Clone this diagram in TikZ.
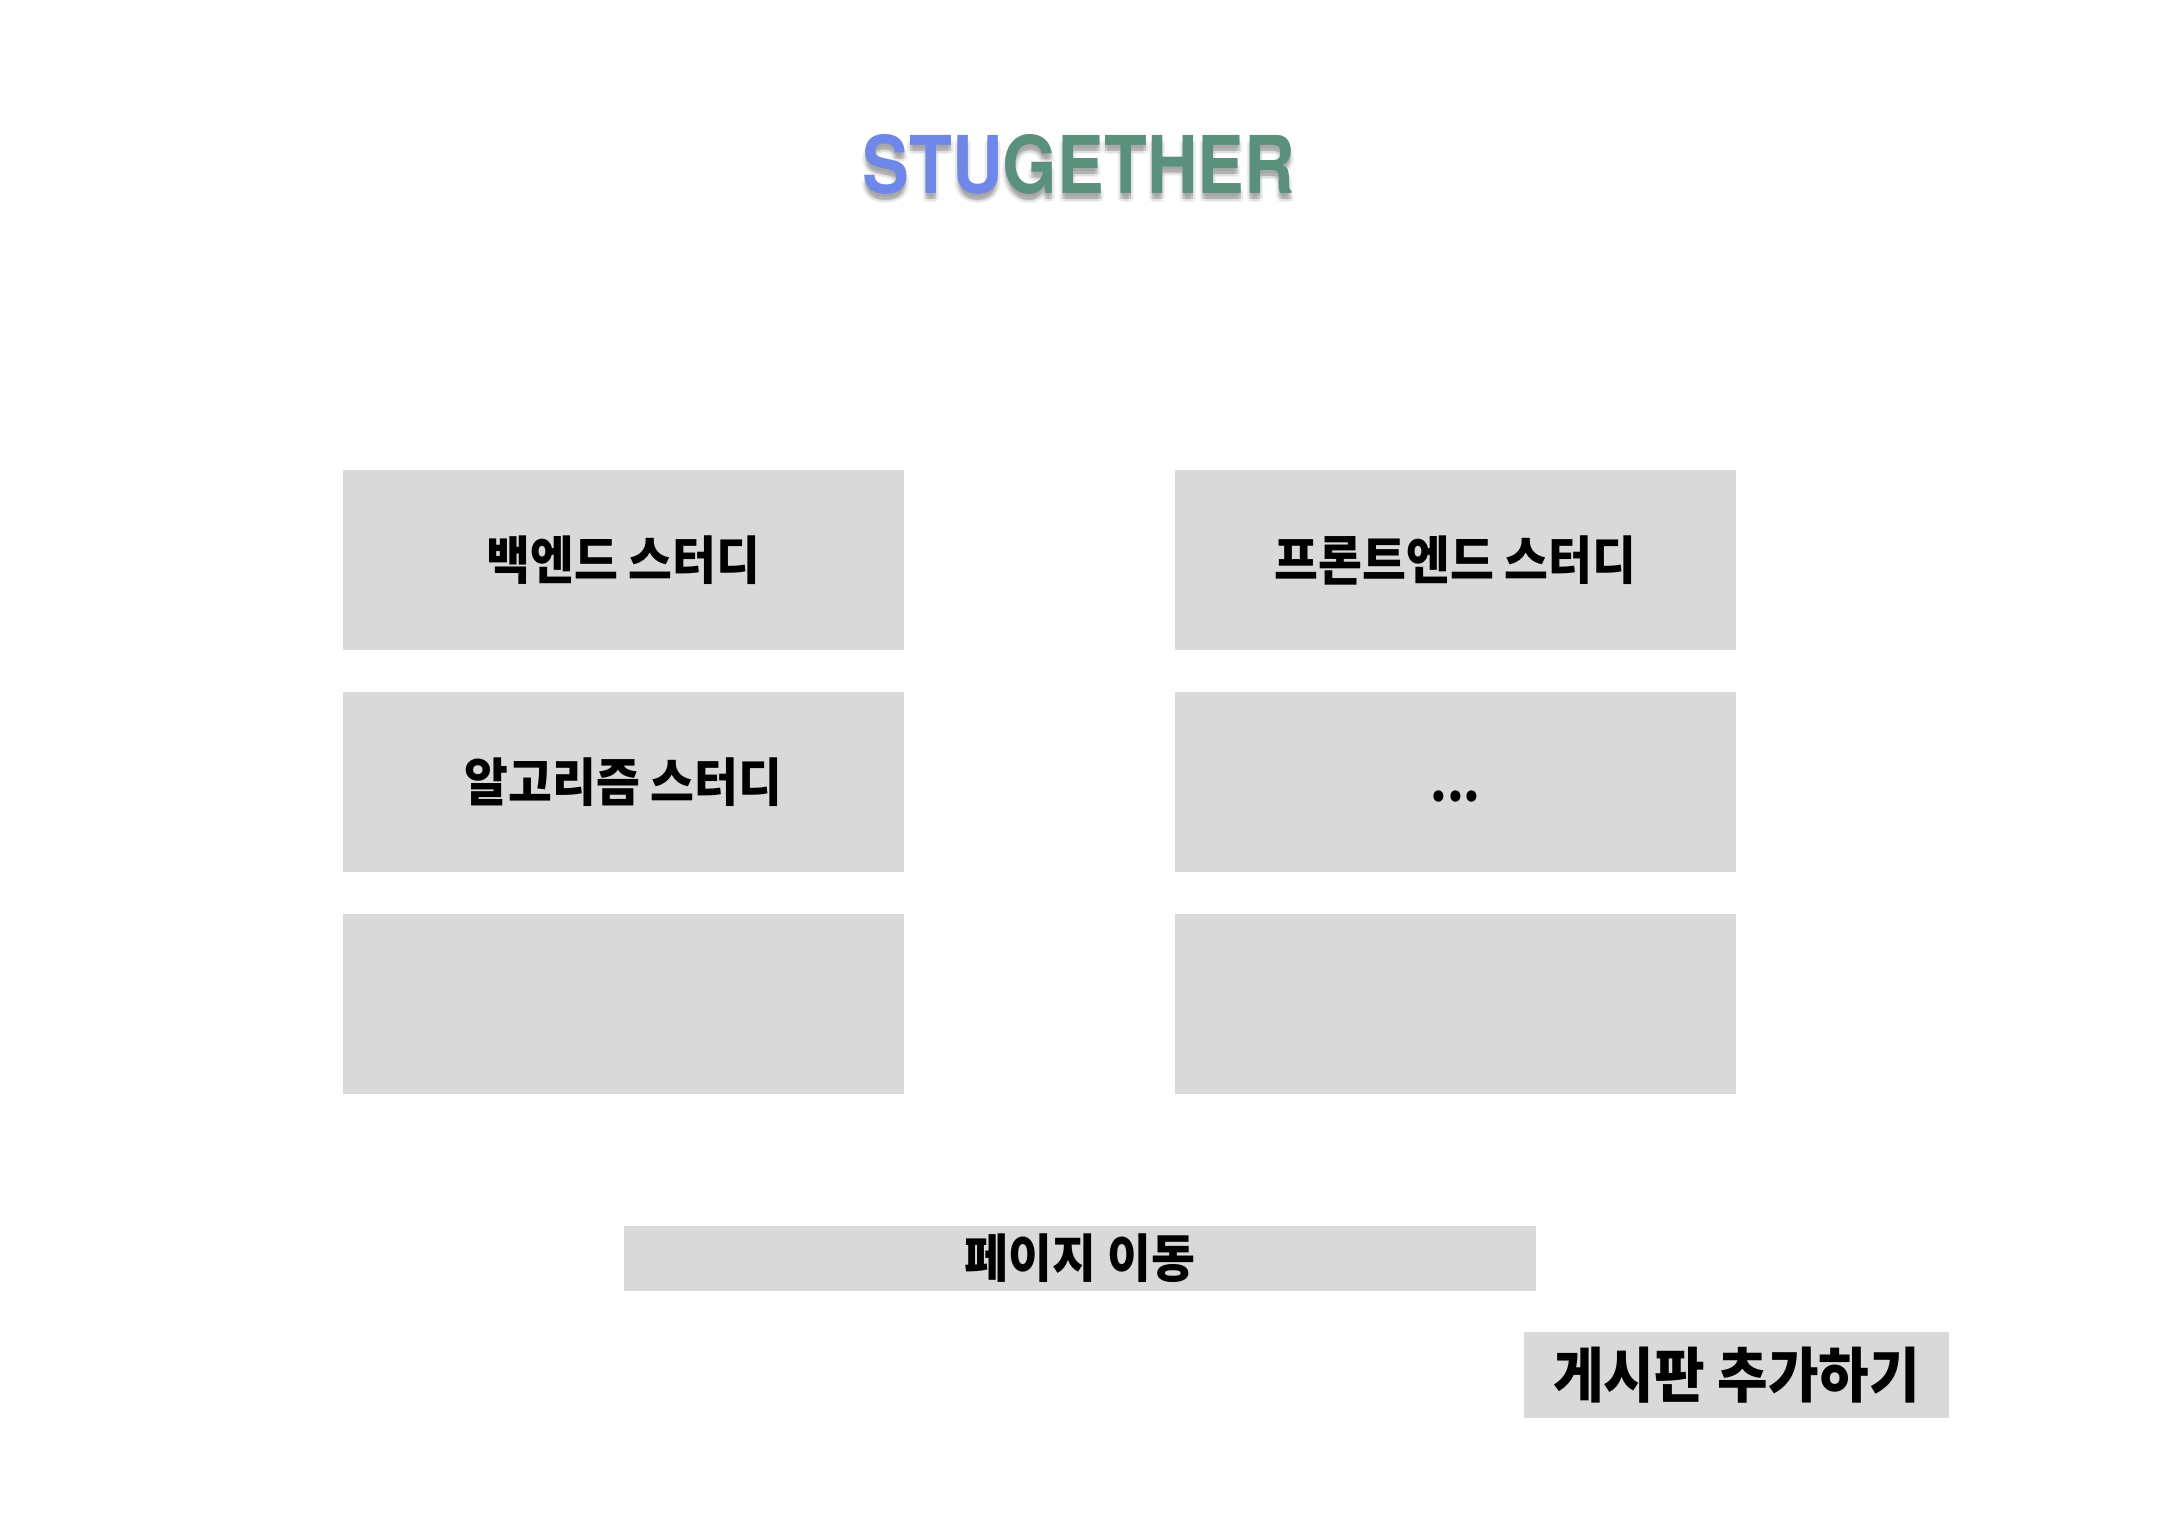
\documentclass[tikz,border=0pt]{standalone}
\usepackage{fontspec}
\newfontfamily\titlefont[FakeStretch=0.88]{TeX Gyre Heros}
\newfontfamily\kr[FakeStretch=0.92]{Noto Sans CJK KR}
\definecolor{boxgray}{HTML}{D9D9D9}
\definecolor{stublue}{HTML}{6F87E8}
\definecolor{stugreen}{HTML}{5A917C}
\tikzset{
  graybox/.style={fill=boxgray, draw=none, inner sep=0pt, text=black,
    font=\kr\bfseries\fontsize{52}{60}\selectfont, text height=44bp, text depth=6bp},
  titletext/.style={inner sep=0pt, font=\titlefont\bfseries\fontsize{80}{90}\selectfont}
}
\begin{document}
\begin{tikzpicture}[x=1bp,y=-1bp]
\useasboundingbox[fill=white] (0,0) rectangle (2160,1536);
% title shadow
\foreach \dx/\dy/\op in {0/6/0.09, 2/6/0.06, -2/6/0.06, 0/3/0.06, 0/9/0.05, 3/8/0.04, -3/8/0.04}{
  \node[titletext, text=black, opacity=\op] at (1079+\dx,164+\dy) {STUGETHER};
}
\node[titletext] (title) at (1079,164) {\textcolor{stublue}{STU}\textcolor{stugreen}{GETHER}};
% left column
\node[graybox, minimum width=561bp, minimum height=180bp] (b1) at (623.5,560) {백엔드 스터디};
\node[graybox, minimum width=561bp, minimum height=180bp] (b2) at (623.5,782) {알고리즘 스터디};
\node[graybox, minimum width=561bp, minimum height=180bp] (b3) at (623.5,1003.5) {};
% right column
\node[graybox, minimum width=561bp, minimum height=180bp] (c1) at (1455.5,560) {프론트엔드 스터디};
\node[graybox, minimum width=561bp, minimum height=180bp] (c2) at (1455.5,782) {...};
\node[graybox, minimum width=561bp, minimum height=180bp] (c3) at (1455.5,1003.5) {};
% bottom
\node[graybox, minimum width=912bp, minimum height=65bp] (page) at (1080,1258.5) {페이지 이동};
\node[graybox, minimum width=425bp, minimum height=86bp, font=\kr\bfseries\fontsize{60}{70}\selectfont, text height=51bp, text depth=7bp] (add) at (1736.5,1375) {게시판 추가하기};
\end{tikzpicture}
\end{document}
